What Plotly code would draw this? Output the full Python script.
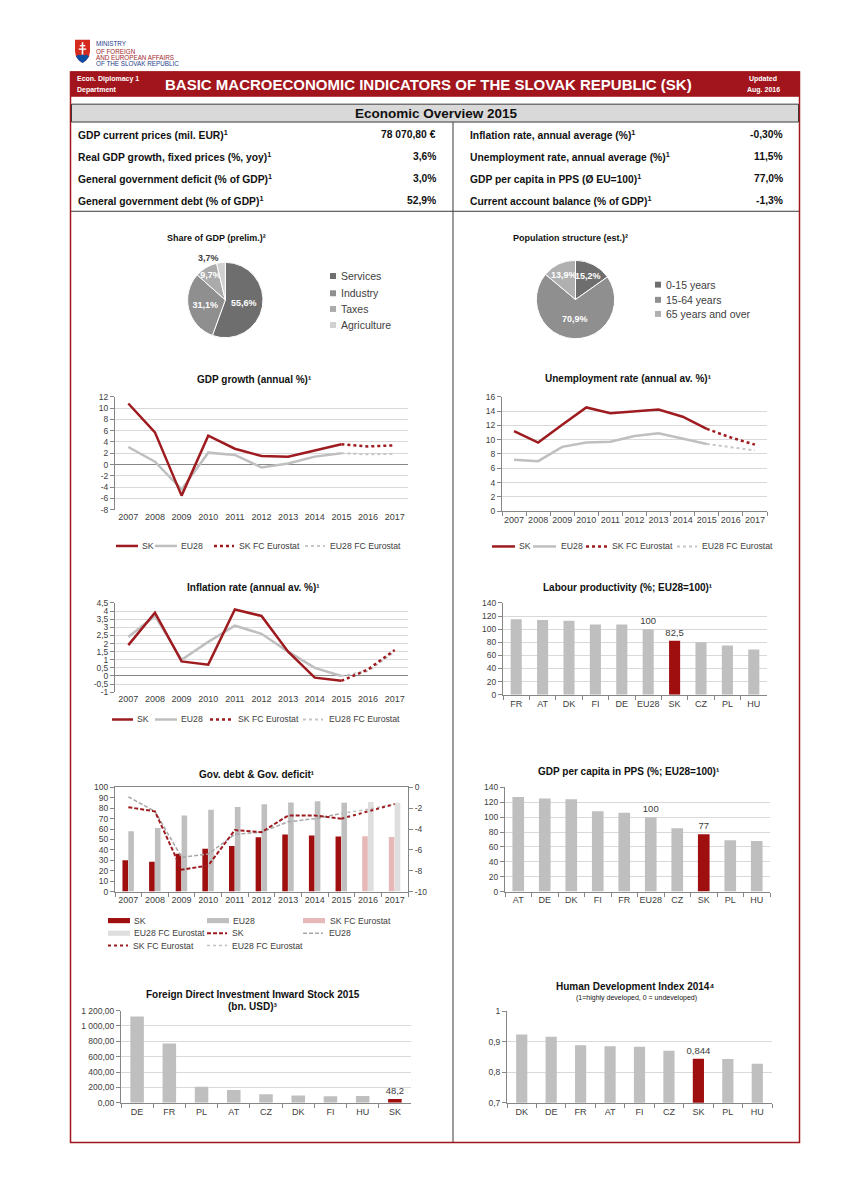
import plotly.graph_objects as go

# ======================= DATA =======================
YEARS = [str(y) for y in range(2007, 2018)]
YEARS_ACT = YEARS[:9]      # 2007-2015
YEARS_FC = YEARS[8:]       # 2015-2017 (forecast line)
YEARS_FC_BAR = YEARS[9:]   # 2016-2017 (forecast bars)

gdp_sk = [10.8, 5.7, -5.5, 5.1, 2.8, 1.5, 1.4, 2.5, 3.6]
gdp_eu = [3.1, 0.5, -4.4, 2.1, 1.7, -0.5, 0.2, 1.4, 2.0]
gdp_sk_fc = [3.6, 3.2, 3.4]
gdp_eu_fc = [2.0, 1.8, 1.9]

unemp_sk = [11.2, 9.6, 12.1, 14.5, 13.7, 14.0, 14.2, 13.2, 11.5]
unemp_eu = [7.2, 7.0, 9.0, 9.6, 9.7, 10.5, 10.9, 10.2, 9.4]
unemp_sk_fc = [11.5, 10.3, 9.3]
unemp_eu_fc = [9.4, 8.9, 8.5]

infl_sk = [1.9, 3.9, 0.9, 0.7, 4.1, 3.7, 1.5, -0.1, -0.3]
infl_eu = [2.4, 3.7, 1.0, 2.1, 3.1, 2.6, 1.5, 0.5, 0.0]
infl_sk_fc = [-0.3, 0.4, 1.6]
infl_eu_fc = [0.0, 0.3, 1.5]

debt_sk = [30.1, 28.5, 36.3, 41.2, 43.7, 52.2, 54.7, 53.9, 52.9]
debt_eu = [57.8, 61.0, 73.0, 78.5, 81.1, 83.8, 85.5, 86.8, 85.2]
debt_sk_fc = [53.0, 52.5]
debt_eu_fc = [86.0, 85.3]
def_sk = [-1.9, -2.3, -7.9, -7.5, -4.1, -4.3, -2.7, -2.7, -3.0]
def_eu = [-0.9, -2.3, -6.7, -6.4, -4.5, -4.3, -3.3, -3.0, -2.5]
def_sk_fc = [-3.0, -2.3, -1.6]
def_eu_fc = [-2.5, -2.1, -1.6]

lp_countries = ["FR", "AT", "DK", "FI", "DE", "EU28", "SK", "CZ", "PL", "HU"]
lp_values = [115, 114, 113, 107, 107, 100, 82.5, 80, 75, 69]

gpc_countries = ["AT", "DE", "DK", "FI", "FR", "EU28", "CZ", "SK", "PL", "HU"]
gpc_values = [127, 125, 124, 108, 106, 100, 85, 77, 69, 68]

fdi_countries = ["DE", "FR", "PL", "AT", "CZ", "DK", "FI", "HU", "SK"]
fdi_values = [1121, 772, 210, 165, 112, 96, 85, 87, 48.2]

hdi_countries = ["DK", "DE", "FR", "AT", "FI", "CZ", "SK", "PL", "HU"]
hdi_values = [0.923, 0.916, 0.888, 0.885, 0.883, 0.870, 0.844, 0.843, 0.828]

share_labels = ["Services", "Industry", "Taxes", "Agriculture"]
share_values = [55.6, 31.1, 9.7, 3.7]
pop_labels = ["0-15 years", "15-64 years", "65 years and over"]
pop_values = [15.2, 70.9, 13.9]

ov_left_labels = ["GDP current prices (mil. EUR)", "Real GDP growth, fixed prices (%, yoy)",
                  "General government deficit (% of GDP)", "General government debt (% of GDP)"]
ov_left_values = ["78 070,80 €", "3,6%", "3,0%", "52,9%"]
ov_right_labels = ["Inflation rate, annual average (%)", "Unemployment rate, annual average (%)",
                   "GDP per capita in PPS (Ø EU=100)", "Current account balance (% of GDP)"]
ov_right_values = ["-0,30%", "11,5%", "77,0%", "-1,3%"]

# ======================= STYLE =======================
W, H = 848, 1200
FONT = "Liberation Sans, Arial, sans-serif"
FRAME = "#a3151c"
RED = "#9e1b20"
BAR_RED = "#a00f0f"
GRAY = "#bfbfbf"
GRAY_D = "#a6a6a6"
FC_GRAY = "#c6c6c6"
PINK = "#e6b9b8"
LGRAY = "#dedede"
GRID = "#d9d9d9"
AXIS = "#868686"
TXT = "#404040"
DASH = "4px,2px"


def X(p):
    return p / W


def Y(p):
    return 1 - p / H


def fnum(v, dec=None):
    s = f"{v:.{dec}f}" if dec is not None else f"{v:g}"
    return s.replace(".", ",")


def fthous(v):
    return f"{v:,.2f}".replace(",", " ").replace(".", ",")


shapes, ann = [], []


def text(s, x, y, size=9, color=TXT, bold=False, xanchor="center", yanchor="middle", family=FONT):
    if bold:
        s = "<b>" + s + "</b>"
    ann.append(dict(text=s, x=X(x), y=Y(y), xref="paper", yref="paper", xanchor=xanchor,
                    yanchor=yanchor, showarrow=False, align="left",
                    font=dict(size=size, color=color, family=family)))


def line(x0, y0, x1, y1, color, width=1, dash="solid"):
    shapes.append(dict(type="line", xref="paper", yref="paper", x0=X(x0), x1=X(x1),
                       y0=Y(y0), y1=Y(y1), line=dict(color=color, width=width, dash=dash)))


def rect(x0, y0, x1, y1, fill="rgba(0,0,0,0)", lc="rgba(0,0,0,0)", lw=0):
    shapes.append(dict(type="rect", xref="paper", yref="paper", x0=X(x0), x1=X(x1),
                       y0=Y(y1), y1=Y(y0), fillcolor=fill, line=dict(color=lc, width=lw)))


def path(points, fill, close=True):
    d = "M" + " L".join(f"{X(a):.5f},{Y(b):.5f}" for a, b in points) + (" Z" if close else "")
    shapes.append(dict(type="path", xref="paper", yref="paper", path=d, fillcolor=fill,
                       line=dict(width=0)))


# ======================= PAGE FRAME =======================
# logo
path([(75, 35), (90, 35), (90, 47), (89, 52), (86, 56), (82.5, 58.5), (79, 56), (76, 52), (75, 47)], "#d52b1e")
path([(76, 52), (78.5, 50), (80.5, 51), (82.5, 49.5), (84.5, 51), (86.5, 50), (89, 52), (86, 56), (82.5, 58.5), (79, 56)], "#0b4ea2")
line(82.5, 37.5, 82.5, 50, "white", 1.6)
line(79.8, 41, 85.2, 41, "white", 1.4)
line(78.8, 44.5, 86.2, 44.5, "white", 1.4)
text("MINISTRY", 94, 39, size=6.3, color="#27408b", xanchor="left")
text("OF FOREIGN", 94, 47, size=6.3, color="#a3282c", xanchor="left")
text("AND EUROPEAN AFFAIRS", 94, 53, size=6.3, color="#a3282c", xanchor="left")
text("OF THE SLOVAK REPUBLIC", 94, 59, size=6.3, color="#27408b", xanchor="left")

rect(70.5, 67.5, 799.5, 1147, lc=FRAME, lw=1.5)
rect(70.5, 67.5, 799.5, 92, fill=FRAME, lc=FRAME, lw=1)
text("Econ. Diplomacy 1", 75, 74.5, size=7, color="white", bold=True, xanchor="left")
text("Department", 75, 85.5, size=7, color="white", bold=True, xanchor="left")
text("BASIC MACROECONOMIC INDICATORS OF THE SLOVAK REPUBLIC (SK)", 428, 80.5, size=15,
     color="white", bold=True)
text("Updated", 763, 74.5, size=7, color="white", bold=True)
text("Aug. 2016", 763, 85.5, size=7, color="white", bold=True)

rect(71.5, 100, 798.5, 118, fill="#d9d9d9", lc="#3a3a3a", lw=1)
text("Economic Overview 2015", 436, 109, size=13.5, color="#111111", bold=True)
line(453, 118, 453, 1147, "#3a3a3a", 1)
line(71, 208, 799, 208, "#3a3a3a", 1)

row_y = [131, 153, 175, 197]
for yy, lab, val in zip(row_y, ov_left_labels, ov_left_values):
    text(lab + "<sup>1</sup>", 76, yy, size=10.3, color="#111111", bold=True, xanchor="left")
    text(val, 438, yy, size=10.3, color="#111111", bold=True, xanchor="right")
for yy, lab, val in zip(row_y, ov_right_labels, ov_right_values):
    text(lab + "<sup>1</sup>", 468, yy, size=10.3, color="#111111", bold=True, xanchor="left")
    text(val, 785, yy, size=10.3, color="#111111", bold=True, xanchor="right")

# ======================= TITLES =======================
text("Share of GDP (prelim.)²", 216, 235, size=9, bold=True, color="#111111")
text("Population structure (est.)²", 570, 235, size=9, bold=True, color="#111111")
text("GDP growth (annual %)¹", 254, 377.5, size=10, bold=True, color="#111111")
text("Unemployment rate (annual av. %)¹", 628, 377, size=10, bold=True, color="#111111")
text("Inflation rate (annual av. %)¹", 253, 587.5, size=10, bold=True, color="#111111")
text("Labour productivity (%; EU28=100)¹", 628, 587.7, size=10, bold=True, color="#111111")
text("Gov. debt & Gov. deficit¹", 257, 775.7, size=10, bold=True, color="#111111")
text("GDP per capita in PPS (%; EU28=100)¹", 629, 773.3, size=10, bold=True, color="#111111")
text("Foreign Direct Investment Inward Stock 2015", 253, 998, size=10, bold=True, color="#111111")
text("(bn. USD)³", 253, 1010, size=10, bold=True, color="#111111")
text("Human Development Index 2014⁴", 635, 990, size=10, bold=True, color="#111111")
text("(1=highly developed, 0 = undeveloped)", 636, 1001, size=7, color="#111111")

# ======================= MANUAL LEGENDS =======================
def leg_line(x0, x1, y, color, width, dash, label, tx, size=8.7):
    line(x0, y, x1, y, color, width, dash)
    text(label, tx, y, size=size, color=TXT, xanchor="left")


def leg_bar(x0, x1, y, color, label, tx, size=8.7):
    rect(x0, y - 2.6, x1, y + 2.6, fill=color)
    text(label, tx, y, size=size, color=TXT, xanchor="left")


def leg_square(x, y, color, label, size=10.5):
    rect(x - 3, y - 3, x + 3, y + 3, fill=color)
    text(label, x + 6, y, size=size, color=TXT, xanchor="left")


series_names = ["SK", "EU28", "SK FC Eurostat", "EU28 FC Eurostat"]
line_styles = [(RED, 2.5, "solid"), (GRAY, 2.5, "solid"), (RED, 2.5, "dot"), (FC_GRAY, 2, "dot")]
for ly, pos in [(545.5, [(116, 138, 140), (155, 177, 179), (214, 234, 237), (305, 325, 328)]),
                (546, [(492, 515, 517), (533, 556, 559), (586, 607, 610), (677, 697, 700)]),
                (720.5, [(112, 133, 135), (155, 177, 179), (210, 233, 236), (303, 323, 327)])]:
    for name, (c, w, d), (a, b, t) in zip(series_names, line_styles, pos):
        leg_line(a, b, ly, c, w, d, name, t)

leg_bar(108, 130, 923.3, BAR_RED, "SK", 132)
leg_bar(207, 229, 923.3, GRAY, "EU28", 231)
leg_bar(303, 325, 923.3, PINK, "SK FC Eurostat", 328)
leg_bar(108, 130, 936, LGRAY, "EU28 FC Eurostat", 132)
leg_line(207, 227, 936, RED, 2, DASH, "SK", 230)
leg_line(303, 323, 936, GRAY_D, 1.5, DASH, "EU28", 327)
leg_line(108, 128, 948.5, RED, 2, "dot", "SK FC Eurostat", 131)
leg_line(207, 227, 948.5, GRAY, 1.5, "dot", "EU28 FC Eurostat", 230)

share_colors = ["#6e6e6e", "#8f8f8f", "#ababab", "#d0d0d0"]
pop_colors = ["#6e6e6e", "#8f8f8f", "#b0b0b0"]
for lab, c, yy in zip(share_labels, share_colors, [273.3, 290.7, 306.5, 322.7]):
    leg_square(333, yy, c, lab)
for lab, c, yy in zip(pop_labels, pop_colors, [282, 297.3, 311.5]):
    leg_square(658, yy, c, lab)

# ======================= TRACES =======================
fig = go.Figure()
common = dict(showlegend=False, hoverinfo="skip")


def lines4(xa, ya, sk, eu, skfc, eufc):
    fig.add_trace(go.Scatter(x=YEARS_ACT, y=eu, mode="lines", line=dict(color=GRAY, width=2.5), xaxis=xa, yaxis=ya, **common))
    fig.add_trace(go.Scatter(x=YEARS_FC, y=eufc, mode="lines", line=dict(color=FC_GRAY, width=2, dash="dot"), xaxis=xa, yaxis=ya, **common))
    fig.add_trace(go.Scatter(x=YEARS_ACT, y=sk, mode="lines", line=dict(color=RED, width=2.5), xaxis=xa, yaxis=ya, **common))
    fig.add_trace(go.Scatter(x=YEARS_FC, y=skfc, mode="lines", line=dict(color=RED, width=2.5, dash="dot"), xaxis=xa, yaxis=ya, **common))


lines4("x", "y", gdp_sk, gdp_eu, gdp_sk_fc, gdp_eu_fc)
lines4("x2", "y2", unemp_sk, unemp_eu, unemp_sk_fc, unemp_eu_fc)
lines4("x3", "y3", infl_sk, infl_eu, infl_sk_fc, infl_eu_fc)


def cbar(xa, ya, cats, vals, labeled, width, fmt):
    fig.add_trace(go.Bar(
        x=cats, y=vals, width=width, xaxis=xa, yaxis=ya,
        marker=dict(color=[BAR_RED if c == "SK" else GRAY for c in cats], line=dict(width=0)),
        text=[fmt(v) if c in labeled else "" for c, v in zip(cats, vals)],
        textposition="outside", textfont=dict(size=9.5, color=TXT), cliponaxis=False, **common))


cbar("x4", "y4", lp_countries, lp_values, ("EU28", "SK"), 0.42, fnum)
cbar("x7", "y7", gpc_countries, gpc_values, ("EU28", "SK"), 0.44, fnum)
cbar("x8", "y8", fdi_countries, fdi_values, ("SK",), 0.42, fnum)
cbar("x9", "y9", hdi_countries, hdi_values, ("SK",), 0.38, lambda v: fnum(v, 3))

# Gov. debt & deficit
fig.add_trace(go.Bar(x=YEARS_ACT, y=debt_sk, width=0.21, offset=-0.22, marker=dict(color=BAR_RED, line=dict(width=0)), xaxis="x5", yaxis="y5", **common))
fig.add_trace(go.Bar(x=YEARS_ACT, y=debt_eu, width=0.21, offset=0.0, marker=dict(color=GRAY, line=dict(width=0)), xaxis="x5", yaxis="y5", **common))
fig.add_trace(go.Bar(x=YEARS_FC_BAR, y=debt_sk_fc, width=0.21, offset=-0.22, marker=dict(color=PINK, line=dict(width=0)), xaxis="x5", yaxis="y5", **common))
fig.add_trace(go.Bar(x=YEARS_FC_BAR, y=debt_eu_fc, width=0.21, offset=0.0, marker=dict(color=LGRAY, line=dict(width=0)), xaxis="x5", yaxis="y5", **common))
fig.add_trace(go.Scatter(x=YEARS_ACT, y=def_eu, mode="lines", line=dict(color=GRAY_D, width=1.5, dash=DASH), xaxis="x5", yaxis="y6", **common))
fig.add_trace(go.Scatter(x=YEARS_FC, y=def_eu_fc, mode="lines", line=dict(color=GRAY, width=1.5, dash="dot"), xaxis="x5", yaxis="y6", **common))
fig.add_trace(go.Scatter(x=YEARS_ACT, y=def_sk, mode="lines", line=dict(color=RED, width=2, dash=DASH), xaxis="x5", yaxis="y6", **common))
fig.add_trace(go.Scatter(x=YEARS_FC, y=def_sk_fc, mode="lines", line=dict(color=RED, width=2, dash="dot"), xaxis="x5", yaxis="y6", **common))

# Pies
fig.add_trace(go.Pie(
    values=share_values, labels=share_labels, sort=False, direction="clockwise", rotation=0,
    domain=dict(x=[X(187.3), X(263.3)], y=[Y(335.5), Y(259.5)]),
    marker=dict(colors=share_colors, line=dict(color="white", width=1)),
    text=[fnum(v) + "%" for v in share_values], textinfo="text",
    textposition=["inside", "inside", "inside", "outside"],
    insidetextfont=dict(color="white", size=9, family=FONT, weight="bold"),
    outsidetextfont=dict(color=TXT, size=9, family=FONT, weight="bold"),
    insidetextorientation="horizontal", **common))
fig.add_trace(go.Pie(
    values=pop_values, labels=pop_labels, sort=False, direction="clockwise", rotation=0,
    domain=dict(x=[X(536), X(615)], y=[Y(336.5), Y(257.5)]),
    marker=dict(colors=pop_colors, line=dict(color="white", width=1)),
    text=[fnum(v) + "%" for v in pop_values], textinfo="text", textposition="inside",
    insidetextfont=dict(color="white", size=9, family=FONT, weight="bold"),
    insidetextorientation="horizontal", **common))

# ======================= AXES =======================
def xcat(d0, d1, anchor, cats, showline=True, ticks="outside", mirror=False, size=9):
    return dict(domain=[X(d0), X(d1)], anchor=anchor, type="category", categoryorder="array",
                categoryarray=cats, range=[-0.5, len(cats) - 0.5], showgrid=False,
                showline=showline, linecolor=AXIS, linewidth=1, mirror=mirror,
                ticks=ticks if showline else "", tickson="boundaries", ticklen=4, tickcolor=AXIS,
                tickangle=0, tickfont=dict(size=size, color=TXT, family=FONT), zeroline=False,
                fixedrange=True)


def yval(t0, t1, anchor, rng, vals, texts, grid=True, zeroline=False, size=8.5, **kw):
    dd = dict(domain=[Y(t1), Y(t0)], anchor=anchor, range=rng, tickmode="array", tickvals=vals,
              ticktext=texts, showgrid=grid, gridcolor=GRID, gridwidth=1, showline=True,
              linecolor=AXIS, linewidth=1, ticks="outside", ticklen=4, tickcolor=AXIS,
              tickfont=dict(size=size, color=TXT, family=FONT), zeroline=zeroline,
              zerolinecolor=AXIS, zerolinewidth=1, fixedrange=True)
    dd.update(kw)
    return dd


def rng(a, b, step):
    out, v = [], a
    while v <= b + 1e-9:
        out.append(round(v, 4))
        v += step
    return out


t_gdp = rng(-8, 12, 2)
t_un = rng(0, 16, 2)
t_inf = rng(-1, 4.5, 0.5)
t_140 = rng(0, 140, 20)
t_100 = rng(0, 100, 10)
t_def = rng(-10, 0, 2)
t_fdi = rng(0, 1200, 200)
t_hdi = rng(0.7, 1.0, 0.1)

layout_axes = dict(
    xaxis=xcat(115, 408, "y", YEARS, showline=False),
    yaxis=yval(395, 509, "x", [-8, 12], t_gdp, [fnum(v) for v in t_gdp], zeroline=True),
    xaxis2=xcat(502, 767, "y2", YEARS, size=9),
    yaxis2=yval(395, 510.5, "x2", [0, 16], t_un, [fnum(v) for v in t_un]),
    xaxis3=xcat(115, 408, "y3", YEARS, showline=False),
    yaxis3=yval(603, 693, "x3", [-1, 4.5], t_inf, [fnum(v) for v in t_inf], zeroline=True),
    xaxis4=xcat(503, 767, "y4", lp_countries),
    yaxis4=yval(603, 695.5, "x4", [0, 140], t_140, [fnum(v) for v in t_140]),
    xaxis5=xcat(115, 408, "y5", YEARS, mirror=True),
    yaxis5=yval(789, 894, "x5", [0, 100], t_100, [fnum(v) for v in t_100], grid=False),
    yaxis6=yval(789, 894, "x5", [-10, 0], t_def, [fnum(v) for v in t_def], grid=False,
                overlaying="y5", side="right"),
    xaxis7=xcat(505, 770, "y7", gpc_countries),
    yaxis7=yval(789, 894, "x7", [0, 140], t_140, [fnum(v) for v in t_140]),
    xaxis8=xcat(121, 411, "y8", fdi_countries),
    yaxis8=yval(1014, 1107, "x8", [0, 1200], t_fdi, [fthous(v) for v in t_fdi]),
    xaxis9=xcat(507, 772, "y9", hdi_countries),
    yaxis9=yval(1014.5, 1107, "x9", [0.7, 1.0], t_hdi, [fnum(v) for v in t_hdi]),
)
layout_axes["yaxis6"].pop("domain")

fig.update_layout(
    width=W, height=H, margin=dict(l=0, r=0, t=0, b=0, pad=0), autosize=False,
    paper_bgcolor="white", plot_bgcolor="white", showlegend=False,
    font=dict(family=FONT, size=9, color=TXT), separators=", ",
    barmode="overlay", uniformtext=dict(minsize=9, mode="show"),
    shapes=shapes, annotations=ann, **layout_axes)

fig.write_html("out.html", config={"displayModeBar": False, "staticPlot": True},
               post_script="document.body.style.margin='0px';document.body.style.padding='0px';")
